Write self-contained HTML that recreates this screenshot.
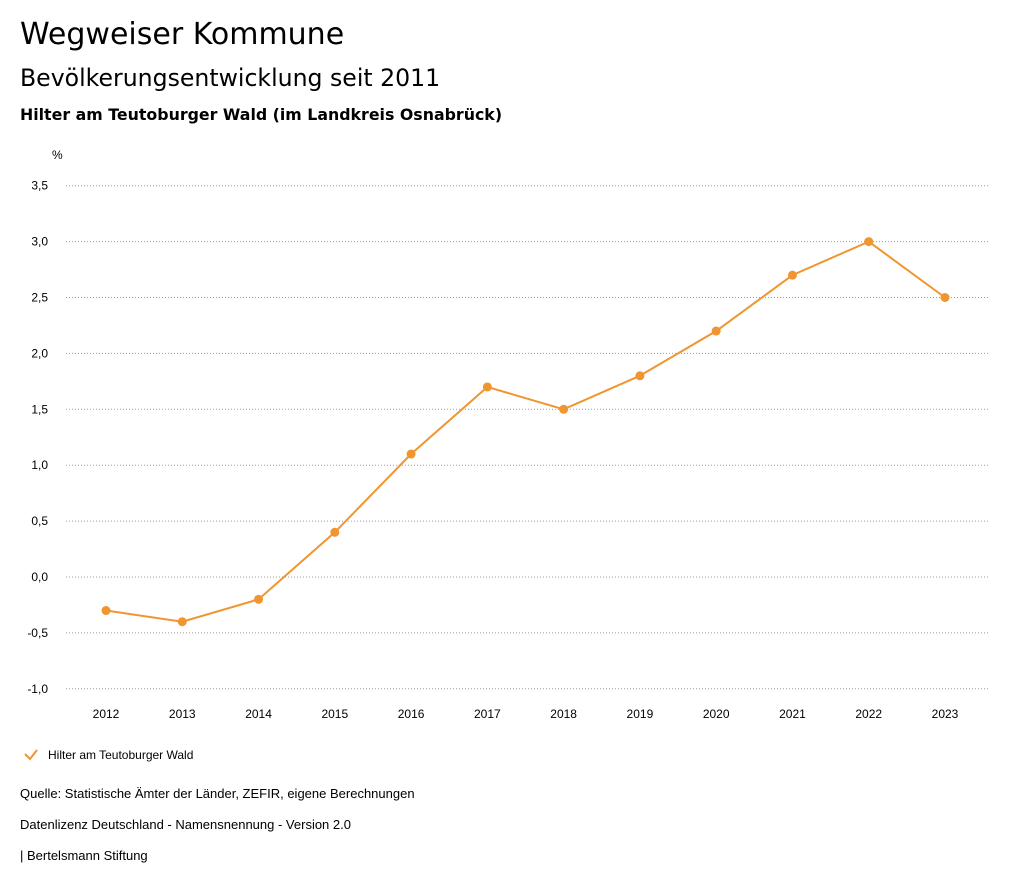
<!DOCTYPE html>
<html><head><meta charset="utf-8"><style>
body{margin:0;background:#fff;width:1024px;height:888px;overflow:hidden;font-family:"Liberation Sans",sans-serif;color:#000}
.t{position:absolute;left:20px;white-space:nowrap}
.h{font-family:"DejaVu Sans",sans-serif}
</style></head><body>
<div class="t h" style="top:17px;font-size:30px">Wegweiser Kommune</div>
<div class="t h" style="top:64px;font-size:23.6px">Bevölkerungsentwicklung seit 2011</div>
<div class="t h" style="top:105px;font-size:15.8px;font-weight:bold">Hilter am Teutoburger Wald (im Landkreis Osnabrück)</div>
<svg id="c" width="1024" height="888" style="position:absolute;left:0;top:0"></svg>
<div class="t" style="top:786px;font-size:13px">Quelle: Statistische Ämter der Länder, ZEFIR, eigene Berechnungen</div>
<div class="t" style="top:817px;font-size:13px">Datenlizenz Deutschland - Namensnennung - Version 2.0</div>
<div class="t" style="top:848px;font-size:13px">| Bertelsmann Stiftung</div>
<script>
const years=[2012,2013,2014,2015,2016,2017,2018,2019,2020,2021,2022,2023];
const values=[-0.3,-0.4,-0.2,0.4,1.1,1.7,1.5,1.8,2.2,2.7,3.0,2.5];
const yTicks=[-1.0,-0.5,0,0.5,1.0,1.5,2.0,2.5,3.0,3.5];
const NS="http://www.w3.org/2000/svg",svg=document.getElementById('c');
const x=i=>106+i*(945-106)/11;
const y=v=>577-v*111.8;
function mk(t,a,txt){const e=document.createElementNS(NS,t);for(const k in a)e.setAttribute(k,a[k]);if(txt!=null)e.textContent=txt;svg.appendChild(e);return e;}
let u=mk('text',{x:52,y:159,'font-size':12,'font-family':'Liberation Sans'},'%');


yTicks.forEach(v=>{
 let g=mk('line',{x1:66,x2:990,y1:y(v),y2:y(v),stroke:'#999','stroke-width':1,'stroke-dasharray':'1,2'});
 
 
 let t=mk('text',{x:48,y:y(v)+4,'text-anchor':'end','font-size':12,'font-family':'Liberation Sans'},v.toFixed(1).replace('.',','));
 
 
});
years.forEach((yr,i)=>{
 let t=mk('text',{x:x(i),y:718,'text-anchor':'middle','font-size':12,'font-family':'Liberation Sans'},yr);
 
 
});
let p=mk('polyline',{points:values.map((v,i)=>x(i)+','+y(v)).join(' '),fill:'none',stroke:'#f0952f','stroke-width':2});


values.forEach((v,i)=>{
 let c=mk('circle',{cx:x(i),cy:y(v),r:4.5,fill:'#f0952f'});
 
 
});
let lm=mk('path',{d:'M25 754 L30 759 L37 750',fill:'none',stroke:'#f0952f','stroke-width':2});


let lt=mk('text',{x:48,y:759,'font-size':12,'font-family':'Liberation Sans'},'Hilter am Teutoburger Wald');


</script>
</body></html>
